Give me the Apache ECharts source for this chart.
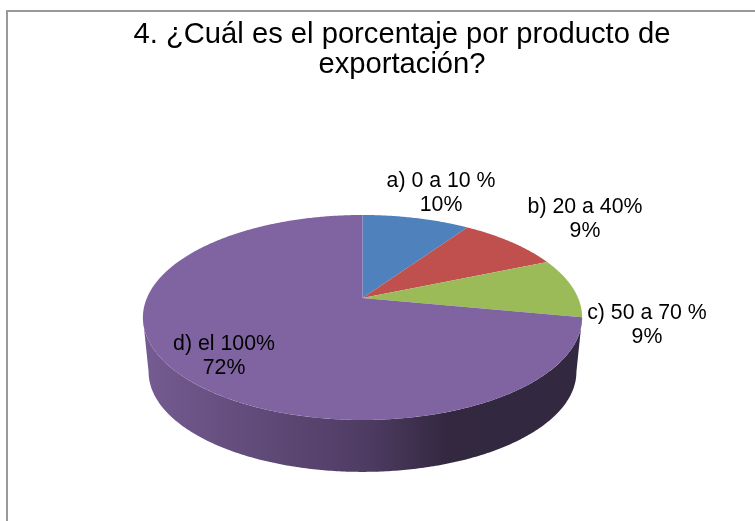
<!DOCTYPE html>
<html>
<head>
<meta charset="utf-8">
<title>Pie</title>
<style>
	html,body{margin:0;padding:0;background:#fff;}
	#main{width:755px;height:521px;}
</style>
</head>
<body>
<div id="main"></div>
<script src="https://cdn.jsdelivr.net/npm/echarts@6/dist/echarts.min.js"></script>
<script>
var categories = ['a) 0 a 10 %', 'b) 20 a 40%', 'c) 50 a 70 %', 'd) el 100%'];
var values = [9.5, 9.1, 9.4, 72];
var percentLabels = ['10%', '9%', '9%', '72%'];
var titleText = '4. ¿Cuál es el porcentaje por producto de\nexportación?';

var colors = ['#4f81bd', '#c0504d', '#9bbb59', '#8064a2'];
// label centres, px
var labelPos = [[441, 193], [585, 219], [647, 325], [224, 356]];

// the tilted pie: apex, half axes, perspective
var top3d = {x: 362.5, y: 298, a: 215.6, b: 98.8};
var bottom3d = {x: 362.5, y: 353, a: 210, b: 96.3};
var persp = 0.19;
// rim turns out of sight past this angle
var frontFrom = Math.PI - Math.acos(persp);
var frontTo = 2 * Math.PI - frontFrom;

function project(s, t) {
	var d = 1 + persp * Math.cos(t);
	return [s.x + s.a * Math.sin(t) / d, s.y - s.b * Math.cos(t) / d];
}
function rim(s, t0, t1) {
	var pts = [];
	var n = Math.max(2, Math.ceil((t1 - t0) / 0.01));
	for (var i = 0; i <= n; i++) {
		pts.push(project(s, t0 + (t1 - t0) * i / n));
	}
	return pts;
}

var total = values.reduce(function (a, b) { return a + b; }, 0);

var wallColor = {
	type: 'linear', global: true, x: 150, y: 0, x2: 577, y2: 0,
	colorStops: [
		{offset: 0, color: '#735a90'},
		{offset: 0.5, color: '#4f3c63'},
		{offset: 0.7, color: '#332840'},
		{offset: 1, color: '#322840'}
	]
};

function renderSlice(params, api) {
	var i = params.dataIndex;
	var before = 0;
	for (var k = 0; k < i; k++) before += values[k];
	var t0 = before / total * 2 * Math.PI;
	var t1 = (before + api.value(0)) / total * 2 * Math.PI;
	var children = [];

	var w0 = Math.max(t0, frontFrom), w1 = Math.min(t1, frontTo);
	if (w1 > w0) {
		children.push({
			type: 'polygon',
			shape: {points: rim(top3d, w0, w1).concat(rim(bottom3d, w0, w1).reverse())},
			style: {fill: wallColor}
		});
	}
	children.push({
		type: 'polygon',
		shape: {points: [[top3d.x, top3d.y]].concat(rim(top3d, t0, t1))},
		style: {fill: colors[i]}
	});
	return {type: 'group', children: children};
}

function renderLabel(params, api) {
	var i = params.dataIndex;
	return {
		type: 'text',
		z2: 10,
		style: {
			x: labelPos[i][0], y: labelPos[i][1],
			text: categories[i] + '\n' + percentLabels[i],
			fill: '#000',
			font: '21.3px "Liberation Sans"',
			lineHeight: 24,
			align: 'center',
			verticalAlign: 'middle'
		}
	};
}

var myChart = echarts.init(document.getElementById('main'));
var option = {
	animation: false,
	backgroundColor: '#fff',
	title: {
		text: titleText,
		left: 397, top: 15,
		textAlign: 'center',
		textStyle: {fontFamily: 'Liberation Sans', fontSize: 29.2, fontWeight: 'normal', color: '#000', lineHeight: 30}
	},
	graphic: [{
		type: 'polyline',
		shape: {points: [[7, 521], [7, 11], [755, 11]]},
		style: {stroke: '#999', lineWidth: 2, fill: null}
	}],
	series: [
		{type: 'custom', coordinateSystem: 'none', renderItem: renderSlice, data: values, z: 2},
		{type: 'custom', coordinateSystem: 'none', renderItem: renderLabel, data: values, z: 3}
	]
};
myChart.setOption(option);
</script>
</body>
</html>
